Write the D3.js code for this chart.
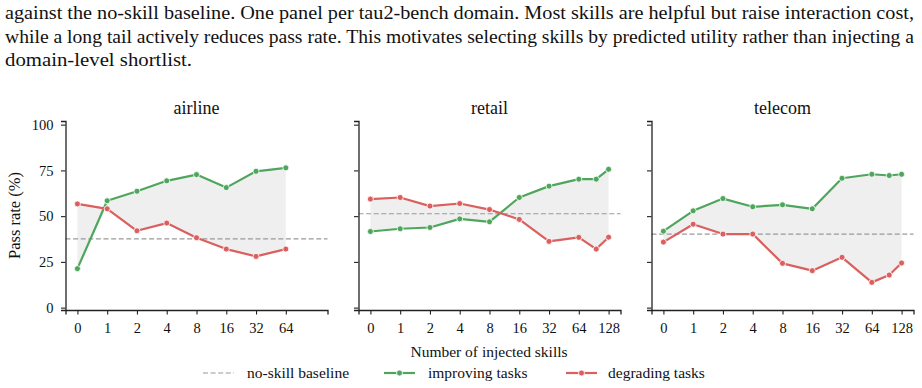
<!DOCTYPE html>
<html><head><meta charset="utf-8">
<script src="https://cdn.jsdelivr.net/npm/d3@7"></script>
<style>
html,body{margin:0;padding:0;background:#fff;}
svg{display:block;font-family:"Liberation Serif","Times New Roman",serif;}
</style></head>
<body>
<svg id="chart" width="922" height="388"></svg>
<script>
// ---- data ----
const captionLines = [
  "against the no-skill baseline. One panel per tau2-bench domain. Most skills are helpful but raise interaction cost,",
  "while a long tail actively reduces pass rate. This motivates selecting skills by predicted utility rather than injecting a",
  "domain-level shortlist."
];
const domains = ["airline", "retail", "telecom"];
const tickLabels = ["0", "1", "2", "4", "8", "16", "32", "64", "128"];
const yTicks = [0, 25, 50, 75, 100];

const airlineSkills = [0, 1, 2, 4, 8, 16, 32, 64];
const airlineImproving = [21.3, 58.4, 63.6, 69.3, 72.7, 65.6, 74.5, 76.4];
const airlineDegrading = [56.7, 54.0, 42.0, 46.2, 38.2, 32.0, 28.0, 32.0];
const airlineBaseline = 37.6;

const retailSkills = [0, 1, 2, 4, 8, 16, 32, 64, 96, 128];
const retailImproving = [41.6, 43.1, 43.8, 48.5, 46.9, 60.2, 66.4, 70.2, 70.2, 75.6];
const retailDegrading = [59.3, 60.2, 55.5, 56.9, 53.6, 48.2, 36.2, 38.4, 32.0, 38.5];
const retailBaseline = 51.3;

const telecomSkills = [0, 1, 2, 4, 8, 16, 32, 64, 96, 128];
const telecomImproving = [41.8, 52.9, 59.6, 55.1, 56.2, 54.0, 70.7, 72.9, 72.2, 72.9];
const telecomDegrading = [35.8, 45.6, 40.2, 40.2, 24.2, 20.2, 27.5, 13.8, 17.8, 24.4];
const telecomBaseline = 40.2;

const legendLabels = ["no-skill baseline", "improving tasks", "degrading tasks"];

const panels = [
  {name: domains[0], x: airlineSkills, imp: airlineImproving, deg: airlineDegrading, base: airlineBaseline, nTicks: 8},
  {name: domains[1], x: retailSkills, imp: retailImproving, deg: retailDegrading, base: retailBaseline, nTicks: 9},
  {name: domains[2], x: telecomSkills, imp: telecomImproving, deg: telecomDegrading, base: telecomBaseline, nTicks: 9}
];

// ---- styles ----
const GREEN = "#4ea65c", RED = "#da5f5e", FILL = "#efefef", BASE = "#9a9a9a", TEXT = "#111";
const svg = d3.select("#chart");

// caption
const cap = svg.append("g");
const capWidths = [909, 909, 187];
captionLines.forEach((t, i) => {
  cap.append("text").attr("x", 5).attr("y", 19 + i * 23.5)
    .attr("font-size", 19.5).attr("fill", TEXT).text(t)
    .attr("textLength", capWidths[i]).attr("lengthAdjust", "spacingAndGlyphs");
});

const panelW = 262, panelLefts = [65.5, 358.5, 651.5];
const plotTop = 121, plotBottom = 310;
const pos = n => n === 0 ? 0 : Math.log2(n) + 1;
const y = d3.scaleLinear().domain([-1.3, 102]).range([plotBottom, plotTop]);

panels.forEach((p, pi) => {
  const L = panelLefts[pi];
  const x = d3.scaleLinear().domain([-0.4, 8.4]).range([L, L + panelW]);
  const g = svg.append("g");

  // fill between
  const pts = p.x.map((n, i) => ({n, a: p.imp[i], b: p.deg[i]}));
  g.append("path").datum(pts)
    .attr("d", d3.area().x(d => x(pos(d.n))).y0(d => y(d.b)).y1(d => y(d.a)))
    .attr("fill", FILL);

  // baseline
  g.append("line").attr("x1", L).attr("x2", L + panelW)
    .attr("y1", y(p.base)).attr("y2", y(p.base))
    .attr("stroke", BASE).attr("stroke-width", 1.2).attr("stroke-dasharray", "5,2.6");

  // series
  [[p.imp, GREEN], [p.deg, RED]].forEach(([vals, col]) => {
    const d = p.x.map((n, i) => ({n, v: vals[i]}));
    g.append("path").datum(d)
      .attr("d", d3.line().x(e => x(pos(e.n))).y(e => y(e.v)))
      .attr("fill", "none").attr("stroke", col).attr("stroke-width", 2.2)
      .attr("stroke-linejoin", "round");
    g.selectAll(null).data(d).enter().append("circle")
      .attr("cx", e => x(pos(e.n))).attr("cy", e => y(e.v)).attr("r", 3)
      .attr("fill", col).attr("stroke", "#fff").attr("stroke-width", 0.8);
  });

  // x axis
  const xAxis = d3.axisBottom(x).tickValues(d3.range(p.nTicks))
    .tickFormat(i => tickLabels[i]).tickSizeOuter(0).tickSize(4.5).tickPadding(8);
  const xg = g.append("g").attr("transform", `translate(0,${plotBottom})`).call(xAxis);
  // y axis
  const yAxis = d3.axisLeft(y).tickValues(yTicks).tickSizeOuter(0).tickSize(4.5).tickPadding(7.5)
    .tickFormat(pi === 0 ? d3.format("d") : () => "");
  const yg = g.append("g").attr("transform", `translate(${L},0)`).call(yAxis);
  [xg, yg].forEach(a => {
    a.selectAll("path").attr("stroke", "#222").attr("stroke-width", 1.3);
    a.selectAll("line").attr("stroke", "#222").attr("stroke-width", 1.1);
    a.selectAll("text").attr("font-size", 14.5).attr("fill", TEXT)
      .attr("font-family", "Liberation Serif, Times New Roman, serif");
  });

  // title
  g.append("text").attr("x", L + panelW / 2).attr("y", 114).attr("text-anchor", "middle")
    .attr("font-size", 18).attr("fill", TEXT).text(p.name);
});

// y label
svg.append("text").attr("transform", "translate(20,215.5) rotate(-90)")
  .attr("text-anchor", "middle").attr("font-size", 16.5).attr("fill", TEXT).text("Pass rate (%)");
// x label
svg.append("text").attr("x", 489).attr("y", 357).attr("text-anchor", "middle")
  .attr("font-size", 15.5).attr("fill", TEXT).text("Number of injected skills");

// legend
const leg = svg.append("g");
const legX = [203, 384, 566], legTextX = [247, 428, 608], ly = 373;
const legStyles = [{c: BASE, dash: "5,2.6", w: 1.2, m: false}, {c: GREEN, w: 2.2, m: true}, {c: RED, w: 2.2, m: true}];
legendLabels.forEach((t, i) => {
  const s = legStyles[i];
  leg.append("line").attr("x1", legX[i]).attr("x2", legX[i] + 31).attr("y1", ly).attr("y2", ly)
    .attr("stroke", s.c).attr("stroke-width", s.w).attr("stroke-dasharray", s.dash || null);
  if (s.m) leg.append("circle").attr("cx", legX[i] + 15.5).attr("cy", ly).attr("r", 3)
    .attr("fill", s.c).attr("stroke", "#fff").attr("stroke-width", 0.8);
  leg.append("text").attr("x", legTextX[i]).attr("y", ly + 5).attr("font-size", 15.5)
    .attr("fill", TEXT).text(t);
});
</script>
</body></html>
